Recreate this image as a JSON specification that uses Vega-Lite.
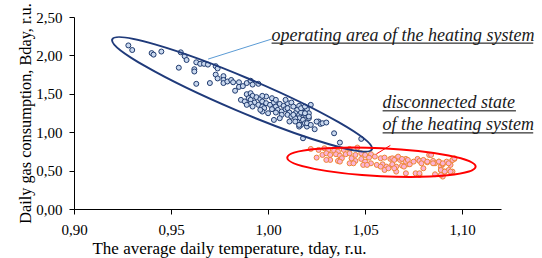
{
  "$schema": "https://vega.github.io/schema/vega-lite/v6.json",
  "width": 427,
  "height": 192,
  "autosize": "none",
  "padding": {"left": 74, "top": 17, "right": 41, "bottom": 49},
  "background": "white",
  "config": {
    "view": {"stroke": null},
    "font": "Liberation Serif, Times New Roman, Tinos, serif",
    "axis": {
      "grid": false,
      "domainColor": "#000000",
      "tickColor": "#000000",
      "labelColor": "#000000",
      "titleColor": "#000000",
      "labelFont": "Liberation Serif, Times New Roman, Tinos, serif",
      "titleFont": "Liberation Serif, Times New Roman, Tinos, serif",
      "labelFontSize": 15,
      "titleFontSize": 17,
      "titleFontWeight": "normal",
      "tickSize": 5
    }
  },
  "datasets": {
    "pts": [
      {"x":0.928,"y":2.13,"g":"op"},{"x":0.930,"y":2.07,"g":"op"},{"x":0.940,"y":2.03,"g":"op"},{"x":0.941,"y":2.01,"g":"op"},
      {"x":0.945,"y":2.05,"g":"op"},{"x":0.955,"y":2.04,"g":"op"},{"x":0.957,"y":1.99,"g":"op"},{"x":0.958,"y":1.94,"g":"op"},
      {"x":0.954,"y":1.84,"g":"op"},{"x":0.963,"y":1.91,"g":"op"},{"x":0.965,"y":1.89,"g":"op"},{"x":0.967,"y":1.89,"g":"op"},
      {"x":0.969,"y":1.88,"g":"op"},{"x":0.973,"y":1.86,"g":"op"},{"x":0.974,"y":1.83,"g":"op"},{"x":0.962,"y":1.82,"g":"op"},
      {"x":0.962,"y":1.79,"g":"op"},{"x":0.963,"y":1.63,"g":"op"},{"x":0.970,"y":1.64,"g":"op"},{"x":0.973,"y":1.75,"g":"op"},
      {"x":0.974,"y":1.70,"g":"op"},{"x":0.977,"y":1.73,"g":"op"},{"x":0.977,"y":1.68,"g":"op"},{"x":0.977,"y":1.64,"g":"op"},
      {"x":0.979,"y":1.66,"g":"op"},{"x":0.981,"y":1.68,"g":"op"},{"x":0.982,"y":1.65,"g":"op"},{"x":0.985,"y":1.65,"g":"op"},
      {"x":0.985,"y":1.59,"g":"op"},{"x":0.987,"y":1.60,"g":"op"},{"x":0.989,"y":1.64,"g":"op"},{"x":0.991,"y":1.67,"g":"op"},
      {"x":0.992,"y":1.62,"g":"op"},{"x":0.995,"y":1.63,"g":"op"},{"x":0.983,"y":1.54,"g":"op"},
      {"x":0.989,"y":1.495,"g":"op"},{"x":0.991,"y":1.508,"g":"op"},{"x":0.992,"y":1.473,"g":"op"},{"x":0.990,"y":1.443,"g":"op"},
      {"x":0.986,"y":1.421,"g":"op"},{"x":0.988,"y":1.400,"g":"op"},{"x":0.991,"y":1.421,"g":"op"},{"x":0.994,"y":1.456,"g":"op"},
      {"x":0.996,"y":1.430,"g":"op"},{"x":0.993,"y":1.386,"g":"op"},{"x":0.991,"y":1.369,"g":"op"},{"x":0.995,"y":1.356,"g":"op"},
      {"x":0.997,"y":1.400,"g":"op"},{"x":0.999,"y":1.378,"g":"op"},{"x":0.997,"y":1.334,"g":"op"},{"x":0.998,"y":1.313,"g":"op"},
      {"x":1.001,"y":1.356,"g":"op"},{"x":1.003,"y":1.386,"g":"op"},{"x":1.004,"y":1.334,"g":"op"},{"x":1.002,"y":1.300,"g":"op"},
      {"x":1.006,"y":1.369,"g":"op"},{"x":1.008,"y":1.343,"g":"op"},{"x":1.010,"y":1.378,"g":"op"},{"x":1.012,"y":1.386,"g":"op"},
      {"x":1.005,"y":1.291,"g":"op"},{"x":1.004,"y":1.256,"g":"op"},{"x":1.007,"y":1.269,"g":"op"},{"x":1.009,"y":1.300,"g":"op"},
      {"x":1.010,"y":1.313,"g":"op"},{"x":1.013,"y":1.334,"g":"op"},{"x":1.015,"y":1.291,"g":"op"},{"x":1.016,"y":1.343,"g":"op"},
      {"x":1.018,"y":1.313,"g":"op"},{"x":1.020,"y":1.300,"g":"op"},{"x":1.011,"y":1.256,"g":"op"},{"x":1.014,"y":1.247,"g":"op"},
      {"x":1.016,"y":1.226,"g":"op"},{"x":1.017,"y":1.256,"g":"op"},{"x":1.019,"y":1.226,"g":"op"},{"x":1.021,"y":1.247,"g":"op"},
      {"x":0.997,"y":1.269,"g":"op"},{"x":1.000,"y":1.247,"g":"op"},{"x":0.996,"y":1.291,"g":"op"},{"x":1.010,"y":1.226,"g":"op"},
      {"x":1.012,"y":1.204,"g":"op"},{"x":1.016,"y":1.182,"g":"op"},{"x":1.018,"y":1.160,"g":"op"},{"x":1.021,"y":1.182,"g":"op"},
      {"x":1.015,"y":1.139,"g":"op"},{"x":1.017,"y":1.095,"g":"op"},{"x":1.019,"y":1.117,"g":"op"},{"x":1.003,"y":1.160,"g":"op"},
      {"x":1.007,"y":1.226,"g":"op"},{"x":1.006,"y":1.182,"g":"op"},{"x":1.022,"y":1.356,"g":"op"},{"x":1.002,"y":1.443,"g":"op"},
      {"x":0.999,"y":1.465,"g":"op"},{"x":1.004,"y":1.421,"g":"op"},{"x":0.992,"y":1.334,"g":"op"},{"x":0.989,"y":1.356,"g":"op"},
      {"x":0.997,"y":1.473,"g":"op"},{"x":1.009,"y":1.421,"g":"op"},{"x":1.014,"y":1.182,"g":"op"},{"x":1.016,"y":1.073,"g":"op"},
      {"x":1.011,"y":1.139,"g":"op"},{"x":1.020,"y":1.073,"g":"op"},
      {"x":1.017,"y":1.312,"g":"op"},{"x":1.019,"y":1.247,"g":"op"},{"x":1.013,"y":1.226,"g":"op"},{"x":1.020,"y":1.117,"g":"op"},
      {"x":1.014,"y":1.139,"g":"op"},{"x":1.016,"y":1.095,"g":"op"},{"x":1.021,"y":1.204,"g":"op"},{"x":1.019,"y":1.334,"g":"op"},
      {"x":1.022,"y":1.095,"g":"op"},{"x":1.026,"y":1.139,"g":"op"},{"x":1.027,"y":1.108,"g":"op"},{"x":1.028,"y":1.117,"g":"op"},
      {"x":1.030,"y":1.126,"g":"op"},{"x":1.024,"y":1.039,"g":"op"},{"x":1.034,"y":0.986,"g":"op"},{"x":1.037,"y":0.865,"g":"op"},
      {"x":1.048,"y":0.913,"g":"op"},{"x":1.018,"y":0.921,"g":"op"},{"x":1.025,"y":1.138,"g":"op"},
      {"x":1.022,"y":0.782,"g":"off"},{"x":1.026,"y":0.769,"g":"off"},{"x":1.029,"y":0.791,"g":"off"},{"x":1.031,"y":0.769,"g":"off"},
      {"x":1.034,"y":0.760,"g":"off"},{"x":1.036,"y":0.747,"g":"off"},{"x":1.039,"y":0.769,"g":"off"},{"x":1.042,"y":0.782,"g":"off"},
      {"x":1.046,"y":0.800,"g":"off"},{"x":1.025,"y":0.669,"g":"off"},{"x":1.028,"y":0.704,"g":"off"},{"x":1.030,"y":0.726,"g":"off"},
      {"x":1.032,"y":0.704,"g":"off"},{"x":1.035,"y":0.713,"g":"off"},{"x":1.037,"y":0.695,"g":"off"},{"x":1.040,"y":0.713,"g":"off"},
      {"x":1.042,"y":0.726,"g":"off"},{"x":1.045,"y":0.704,"g":"off"},{"x":1.048,"y":0.726,"g":"off"},{"x":1.050,"y":0.704,"g":"off"},
      {"x":1.053,"y":0.713,"g":"off"},{"x":1.055,"y":0.682,"g":"off"},{"x":1.058,"y":0.661,"g":"off"},{"x":1.060,"y":0.669,"g":"off"},
      {"x":1.063,"y":0.652,"g":"off"},{"x":1.066,"y":0.661,"g":"off"},{"x":1.068,"y":0.639,"g":"off"},{"x":1.071,"y":0.652,"g":"off"},
      {"x":1.032,"y":0.639,"g":"off"},{"x":1.036,"y":0.626,"g":"off"},{"x":1.042,"y":0.595,"g":"off"},{"x":1.045,"y":0.626,"g":"off"},
      {"x":1.048,"y":0.652,"g":"off"},{"x":1.050,"y":0.617,"g":"off"},{"x":1.053,"y":0.595,"g":"off"},{"x":1.056,"y":0.574,"g":"off"},
      {"x":1.059,"y":0.582,"g":"off"},{"x":1.061,"y":0.552,"g":"off"},{"x":1.064,"y":0.574,"g":"off"},{"x":1.066,"y":0.552,"g":"off"},
      {"x":1.069,"y":0.565,"g":"off"},{"x":1.072,"y":0.582,"g":"off"},{"x":1.060,"y":0.508,"g":"off"},{"x":1.062,"y":0.530,"g":"off"},
      {"x":1.052,"y":0.669,"g":"off"},{"x":1.049,"y":0.574,"g":"off"},{"x":1.043,"y":0.661,"g":"off"},{"x":1.038,"y":0.661,"g":"off"},
      {"x":1.064,"y":0.660,"g":"off"},{"x":1.065,"y":0.639,"g":"off"},{"x":1.067,"y":0.682,"g":"off"},{"x":1.069,"y":0.652,"g":"off"},
      {"x":1.071,"y":0.617,"g":"off"},{"x":1.072,"y":0.639,"g":"off"},{"x":1.073,"y":0.582,"g":"off"},{"x":1.075,"y":0.617,"g":"off"},
      {"x":1.077,"y":0.652,"g":"off"},{"x":1.078,"y":0.626,"g":"off"},{"x":1.080,"y":0.639,"g":"off"},{"x":1.082,"y":0.608,"g":"off"},
      {"x":1.083,"y":0.704,"g":"off"},{"x":1.085,"y":0.626,"g":"off"},{"x":1.086,"y":0.595,"g":"off"},{"x":1.088,"y":0.617,"g":"off"},
      {"x":1.089,"y":0.552,"g":"off"},{"x":1.090,"y":0.582,"g":"off"},{"x":1.089,"y":0.508,"g":"off"},{"x":1.092,"y":0.617,"g":"off"},
      {"x":1.094,"y":0.574,"g":"off"},{"x":1.095,"y":0.639,"g":"off"},{"x":1.096,"y":0.652,"g":"off"},{"x":1.091,"y":0.487,"g":"off"},
      {"x":1.093,"y":0.508,"g":"off"},{"x":1.095,"y":0.487,"g":"off"},{"x":1.066,"y":0.487,"g":"off"},{"x":1.071,"y":0.465,"g":"off"},
      {"x":1.076,"y":0.465,"g":"off"},{"x":1.078,"y":0.443,"g":"off"},{"x":1.090,"y":0.422,"g":"off"},{"x":1.086,"y":0.452,"g":"off"},
      {"x":1.080,"y":0.530,"g":"off"},{"x":1.070,"y":0.552,"g":"off"},{"x":1.064,"y":0.582,"g":"off"},
      {"x":1.084,"y":0.704,"g":"off"},{"x":1.082,"y":0.617,"g":"off"},{"x":1.085,"y":0.595,"g":"off"},{"x":1.088,"y":0.617,"g":"off"},
      {"x":1.090,"y":0.595,"g":"off"},{"x":1.093,"y":0.595,"g":"off"},{"x":1.095,"y":0.639,"g":"off"},{"x":1.096,"y":0.661,"g":"off"},
      {"x":1.089,"y":0.508,"g":"off"},{"x":1.091,"y":0.487,"g":"off"},{"x":1.094,"y":0.487,"g":"off"},{"x":1.089,"y":0.443,"g":"off"},
      {"x":1.079,"y":0.595,"g":"off"},{"x":1.078,"y":0.465,"g":"off"},
      {"x":1.030,"y":0.639,"g":"off"},{"x":1.037,"y":0.617,"g":"off"},{"x":1.044,"y":0.595,"g":"off"},{"x":1.051,"y":0.574,"g":"off"},
      {"x":1.058,"y":0.552,"g":"off"},{"x":1.065,"y":0.530,"g":"off"}
    ],
    "ellA": [{"x": 0.9866, "y": 1.493}],
    "ellB": [{"x": 1.0584, "y": 0.610}],
    "leadA": [{"x": 0.9691, "y": 1.952, "x2": 1.0018, "y2": 2.2125}],
    "leadB": [{"x": 1.0558, "y": 0.717, "x2": 1.0630, "y2": 0.828}],
    "notes": [
      {"x": 1.0018, "y": 2.194, "text": "operating area of the heating system"},
      {"x": 1.0590, "y": 1.310, "text": "disconnected state"},
      {"x": 1.0590, "y": 1.0235, "text": "of the heating system"}
    ],
    "unders": [
      {"x": 1.0018, "x2": 1.1366, "y": 2.160},
      {"x": 1.0590, "x2": 1.1277, "y": 1.278},
      {"x": 1.0590, "x2": 1.1366, "y": 0.991}
    ]
  },
  "encoding": {
    "x": {
      "field": "x", "type": "quantitative",
      "scale": {"domain": [0.9, 1.12], "nice": false, "zero": false},
      "axis": {
        "values": [0.9, 0.95, 1, 1.05, 1.1],
        "labelExpr": "replace(format(datum.value, '.2f'), '.', ',')",
        "title": "The average daily temperature, tday, r.u.",
        "titleX": 155,
        "titlePadding": 3,
        "labelPadding": 8,
        "labelFlush": false
      }
    },
    "y": {
      "field": "y", "type": "quantitative",
      "scale": {"domain": [0, 2.5], "nice": false, "zero": false},
      "axis": {
        "values": [0, 0.5, 1, 1.5, 2, 2.5],
        "labelExpr": "replace(format(datum.value, '.2f'), '.', ',')",
        "title": "Daily gas consumption, Bday, r.u.",
        "titleFontSize": 16.3,
        "titlePadding": 2,
        "labelPadding": 7,
        "labelFlush": false
      }
    }
  },
  "layer": [
    {
      "data": {"name": "pts"},
      "mark": {"type": "circle", "size": 25, "strokeWidth": 1, "opacity": 1},
      "encoding": {
        "fill": {"field": "g", "type": "nominal", "scale": {"domain": ["op", "off"], "range": ["#c9d8ee", "#fbb3d5"]}, "legend": null},
        "stroke": {"field": "g", "type": "nominal", "scale": {"domain": ["op", "off"], "range": ["#1f3a6e", "#ee8636"]}, "legend": null}
      }
    },
    {
      "data": {"name": "ellA"},
      "mark": {
        "type": "point", "filled": false, "stroke": "#1f3a7a", "strokeWidth": 2, "opacity": 1,
        "shape": "M-1,0C-1,-0.0663 -0.5523,-0.12 0,-0.12C0.5523,-0.12 1,-0.0663 1,0C1,0.0663 0.5523,0.12 0,0.12C-0.5523,0.12 -1,0.0663 -1,0Z",
        "size": 79524, "angle": 22.97
      }
    },
    {
      "data": {"name": "ellB"},
      "mark": {
        "type": "point", "filled": false, "stroke": "#ff0000", "strokeWidth": 2, "opacity": 1,
        "shape": "M-1,0C-1,-0.082 -0.5523,-0.1485 0,-0.1485C0.5523,-0.1485 1,-0.082 1,0C1,0.082 0.5523,0.1485 0,0.1485C-0.5523,0.1485 -1,0.082 -1,0Z",
        "size": 35570, "angle": 2.73
      }
    },
    {
      "data": {"name": "leadA"},
      "mark": {"type": "rule", "color": "#5b9bd5", "strokeWidth": 1},
      "encoding": {"x2": {"field": "x2"}, "y2": {"field": "y2"}}
    },
    {
      "data": {"name": "leadB"},
      "mark": {"type": "rule", "color": "#ff0000", "strokeWidth": 1},
      "encoding": {"x2": {"field": "x2"}, "y2": {"field": "y2"}}
    },
    {
      "data": {"name": "unders"},
      "mark": {"type": "rule", "color": "#000000", "strokeWidth": 1},
      "encoding": {"x2": {"field": "x2"}}
    },
    {
      "data": {"name": "notes"},
      "mark": {"type": "text", "align": "left", "baseline": "alphabetic", "font": "Liberation Serif, Times New Roman, Tinos, serif", "fontStyle": "italic", "fontSize": 18, "color": "#1a1a1a"},
      "encoding": {"text": {"field": "text"}}
    }
  ]
}
